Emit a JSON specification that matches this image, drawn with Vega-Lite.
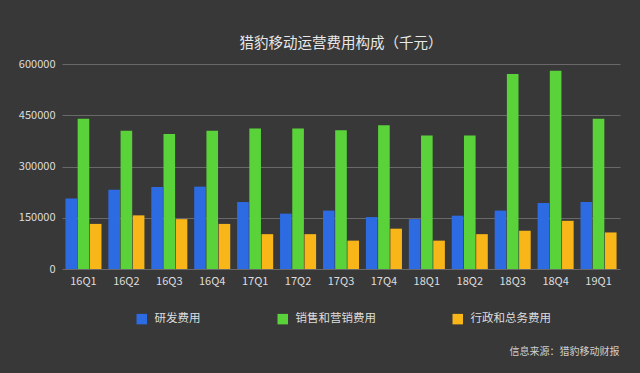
{
  "$schema": "https://vega.github.io/schema/vega-lite/v6.json",
  "width": 558,
  "height": 205,
  "autosize": {"type": "none"},
  "padding": {"left": 62, "top": 64, "right": 20, "bottom": 104},
  "background": "#383838",
  "title": {
    "text": "猎豹移动运营费用构成（千元）",
    "font": "Noto Sans CJK SC",
    "fontSize": 14.5,
    "fontWeight": "normal",
    "color": "#e8e8e8",
    "anchor": "middle",
    "offset": 7
  },
  "data": {
    "values": [
      {"q": "16Q1", "s": "研发费用", "v": 206000},
      {"q": "16Q1", "s": "销售和营销费用", "v": 440000},
      {"q": "16Q1", "s": "行政和总务费用", "v": 132000},
      {"q": "16Q2", "s": "研发费用", "v": 232000},
      {"q": "16Q2", "s": "销售和营销费用", "v": 405000},
      {"q": "16Q2", "s": "行政和总务费用", "v": 157000},
      {"q": "16Q3", "s": "研发费用", "v": 240000},
      {"q": "16Q3", "s": "销售和营销费用", "v": 395000},
      {"q": "16Q3", "s": "行政和总务费用", "v": 146000},
      {"q": "16Q4", "s": "研发费用", "v": 241000},
      {"q": "16Q4", "s": "销售和营销费用", "v": 405000},
      {"q": "16Q4", "s": "行政和总务费用", "v": 132000},
      {"q": "17Q1", "s": "研发费用", "v": 196000},
      {"q": "17Q1", "s": "销售和营销费用", "v": 411000},
      {"q": "17Q1", "s": "行政和总务费用", "v": 102000},
      {"q": "17Q2", "s": "研发费用", "v": 162000},
      {"q": "17Q2", "s": "销售和营销费用", "v": 411000},
      {"q": "17Q2", "s": "行政和总务费用", "v": 102000},
      {"q": "17Q3", "s": "研发费用", "v": 171000},
      {"q": "17Q3", "s": "销售和营销费用", "v": 406000},
      {"q": "17Q3", "s": "行政和总务费用", "v": 83000},
      {"q": "17Q4", "s": "研发费用", "v": 152000},
      {"q": "17Q4", "s": "销售和营销费用", "v": 421000},
      {"q": "17Q4", "s": "行政和总务费用", "v": 118000},
      {"q": "18Q1", "s": "研发费用", "v": 146000},
      {"q": "18Q1", "s": "销售和营销费用", "v": 391000},
      {"q": "18Q1", "s": "行政和总务费用", "v": 83000},
      {"q": "18Q2", "s": "研发费用", "v": 156000},
      {"q": "18Q2", "s": "销售和营销费用", "v": 391000},
      {"q": "18Q2", "s": "行政和总务费用", "v": 102000},
      {"q": "18Q3", "s": "研发费用", "v": 171000},
      {"q": "18Q3", "s": "销售和营销费用", "v": 571000},
      {"q": "18Q3", "s": "行政和总务费用", "v": 112000},
      {"q": "18Q4", "s": "研发费用", "v": 193000},
      {"q": "18Q4", "s": "销售和营销费用", "v": 580000},
      {"q": "18Q4", "s": "行政和总务费用", "v": 141000},
      {"q": "19Q1", "s": "研发费用", "v": 196000},
      {"q": "19Q1", "s": "销售和营销费用", "v": 440000},
      {"q": "19Q1", "s": "行政和总务费用", "v": 107000}
    ]
  },
  "mark": {"type": "bar"},
  "encoding": {
    "x": {
      "field": "q",
      "type": "nominal",
      "sort": null,
      "scale": {"paddingInner": 0.16, "paddingOuter": 0.08},
      "axis": {
        "labelAngle": 0,
        "ticks": false,
        "domain": false,
        "labelPadding": 6,
        "labelColor": "#dddddd",
        "labelFont": "Noto Sans CJK SC",
        "labelFontSize": 11,
        "title": "信息来源：猎豹移动财报",
        "titleFont": "Noto Sans CJK SC",
        "titleFontSize": 10,
        "titleFontWeight": "normal",
        "titleColor": "#cfcfcf",
        "titleAlign": "right",
        "titleAnchor": "end",
        "titleBaseline": "middle",
        "titleX": 557,
        "titleY": 82
      }
    },
    "xOffset": {
      "field": "s",
      "type": "nominal",
      "sort": ["研发费用", "销售和营销费用", "行政和总务费用"],
      "scale": {"paddingInner": 0.05}
    },
    "y": {
      "field": "v",
      "type": "quantitative",
      "scale": {"domain": [0, 600000], "nice": false},
      "axis": {
        "values": [0, 150000, 300000, 450000, 600000],
        "format": "d",
        "title": null,
        "ticks": false,
        "domain": false,
        "labelPadding": 7,
        "labelColor": "#dddddd",
        "labelFont": "Noto Sans CJK SC",
        "labelFontSize": 11,
        "gridColor": "#8a8a8a",
        "gridOpacity": 0.6,
        "gridWidth": 1
      }
    },
    "color": {
      "field": "s",
      "type": "nominal",
      "sort": ["研发费用", "销售和营销费用", "行政和总务费用"],
      "scale": {"range": ["#2d6be3", "#5ad33a", "#f8b619"]},
      "legend": {
        "title": null,
        "orient": "none",
        "direction": "horizontal",
        "legendX": 74,
        "legendY": 249,
        "symbolType": "square",
        "symbolSize": 110,
        "symbolStrokeWidth": 0,
        "symbolOpacity": 1,
        "labelColor": "#dddddd",
        "labelFont": "Noto Sans CJK SC",
        "labelFontSize": 11.5,
        "labelOffset": 7,
        "columnPadding": 76
      }
    }
  },
  "config": {
    "view": {"stroke": null}
  }
}
